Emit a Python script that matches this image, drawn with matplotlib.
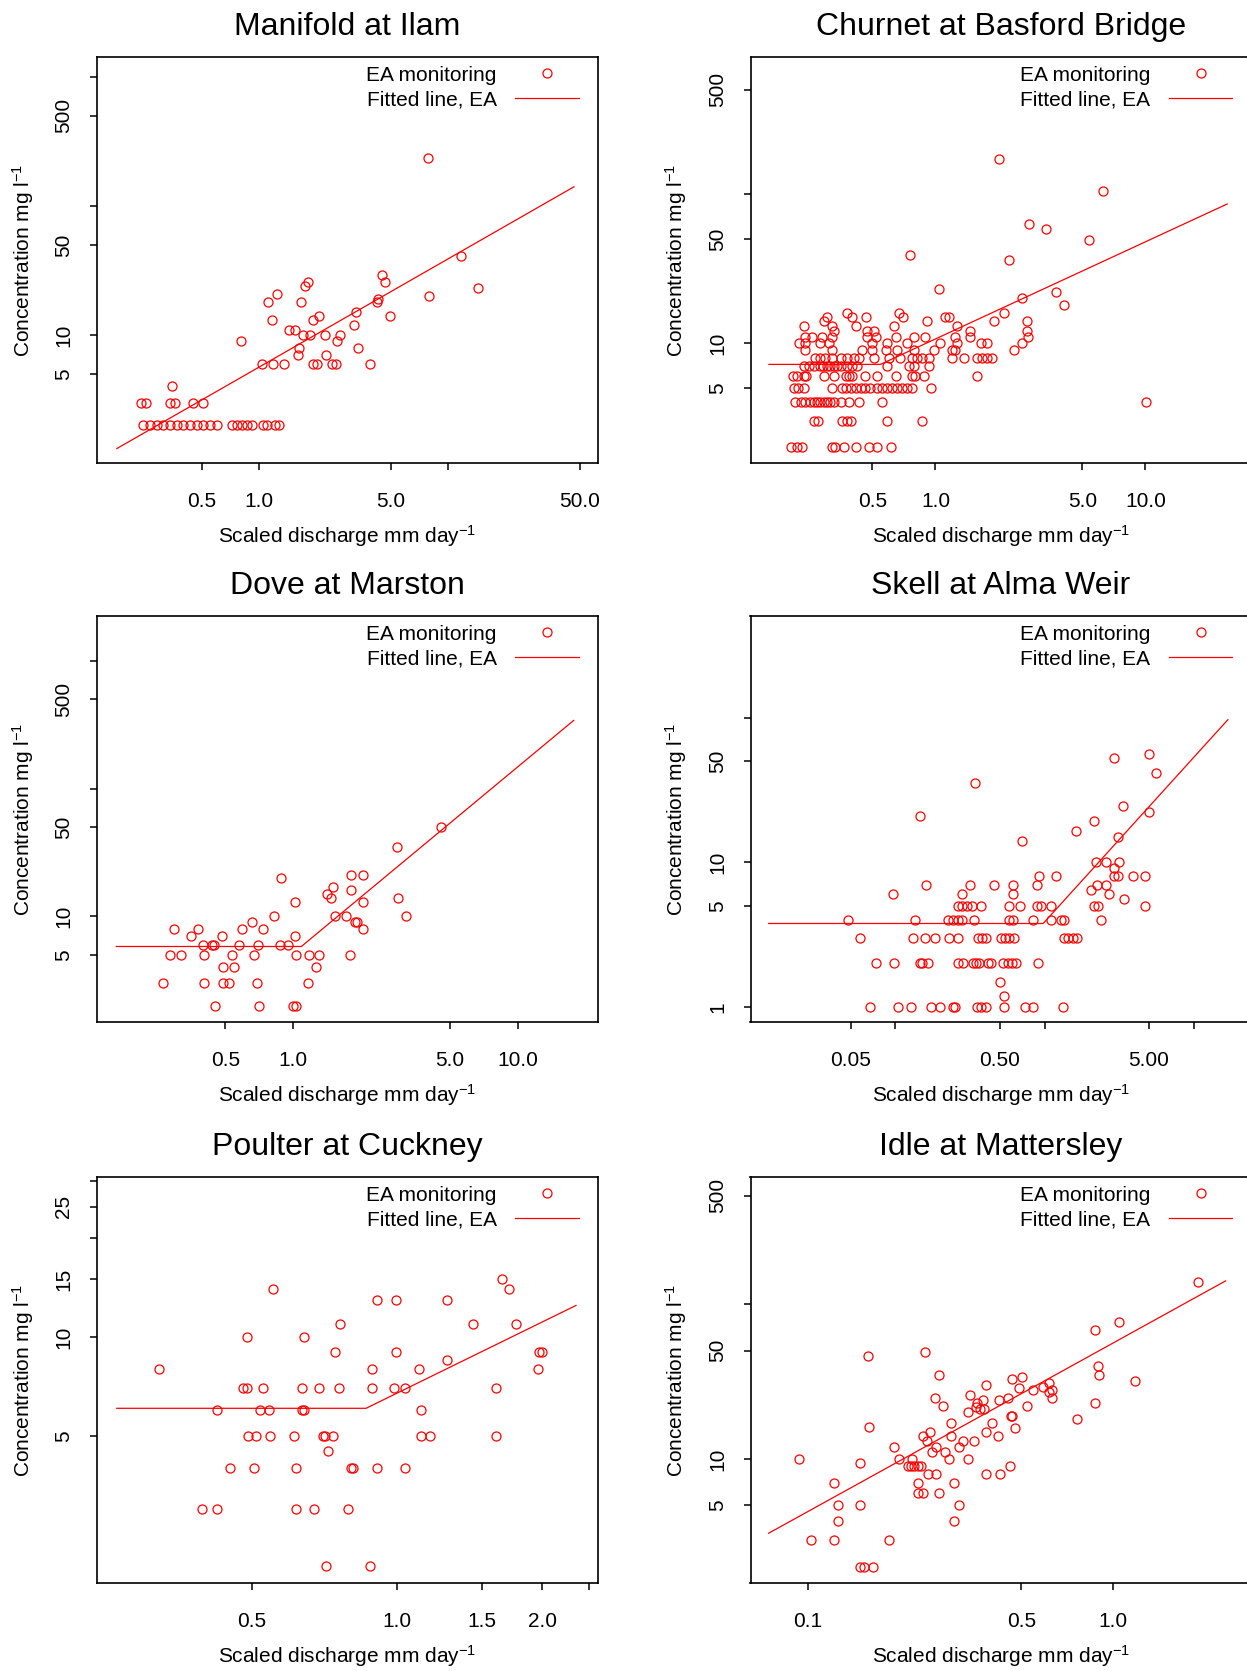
import matplotlib
matplotlib.use('Agg')
import matplotlib.pyplot as plt
from matplotlib.lines import Line2D

plt.rcParams['font.family'] = ['Liberation Sans', 'DejaVu Sans']
plt.rcParams['mathtext.fontset'] = 'custom'
plt.rcParams['mathtext.rm'] = 'Liberation Sans'
plt.rcParams['mathtext.it'] = 'Liberation Sans:italic'
plt.rcParams['mathtext.default'] = 'regular'

# ---- data ----
titles = ['Manifold at Ilam', 'Churnet at Basford Bridge', 'Dove at Marston',
          'Skell at Alma Weir', 'Poulter at Cuckney', 'Idle at Mattersley']

# Manifold at Ilam
x1 = [0.244, 0.265, 0.288, 0.312, 0.338, 0.367, 0.398, 0.431, 0.468, 0.507, 0.550,
      0.597, 0.716, 0.762, 0.809, 0.861, 0.915, 1.05, 1.10, 1.22, 1.27,
      0.239, 0.254, 0.338, 0.360, 0.450, 0.507, 0.348,
      1.04, 1.19, 1.36, 1.92, 2.02, 2.42, 2.55, 3.87,
      0.80, 1.61, 2.26, 1.63, 2.58, 3.35, 1.45, 1.55, 1.70, 1.86,
      2.23, 2.68, 1.92, 2.08, 3.19, 3.26, 1.17, 1.12, 1.24, 1.67,
      1.75, 1.82, 4.28, 4.20, 4.46, 4.64, 4.93, 7.80, 7.93, 11.7, 14.4]
y1 = [2, 2, 2, 2, 2, 2, 2, 2, 2, 2, 2,
      2, 2, 2, 2, 2, 2, 2, 2, 2, 2,
      3, 3, 3, 3, 3, 3, 4,
      6, 6, 6, 6, 6, 6, 6, 6,
      9, 7, 7, 8, 9, 8, 11, 11, 10, 10,
      10, 10, 13, 14, 12, 15, 13, 18, 21, 18,
      24, 26, 19, 18, 29, 26, 14, 234, 20, 41, 23]
fit1_x = [0.177, 46.4]
fit1_y = [1.32, 141]

# Churnet at Basford Bridge
x2 = [0.204, 0.218, 0.232, 0.322, 0.334, 0.366, 0.416, 0.482, 0.528, 0.611,
      0.264, 0.275, 0.359, 0.377, 0.394, 0.585, 0.864,
      0.215, 0.228, 0.240, 0.252, 0.264, 0.273, 0.283, 0.294, 0.305, 0.316,
      0.328, 0.353, 0.387, 0.431, 0.557,
      0.212, 0.221, 0.236, 0.322, 0.359, 0.373, 0.394, 0.416, 0.440, 0.464,
      0.490, 0.527, 0.557, 0.589, 0.622, 0.656, 0.694, 0.733, 0.774, 0.957,
      0.210, 0.219, 0.236, 0.243, 0.296, 0.328, 0.373, 0.387, 0.401, 0.464,
      0.527, 0.645, 0.774, 0.803, 0.880, 1.58,
      0.236, 0.250, 0.264, 0.283, 0.290, 0.305, 0.315, 0.328, 0.340, 0.353,
      0.380, 0.401, 0.424, 0.589, 0.746, 0.789, 0.930,
      0.268, 0.283, 0.299, 0.322, 0.353, 0.380, 0.408, 0.431, 0.508, 0.600,
      0.681, 0.774, 0.818, 0.864, 0.930, 1.20, 1.365, 1.58, 1.67, 1.76, 1.86,
      0.240, 0.322, 0.448, 0.499, 0.578, 0.657, 0.789, 0.980, 1.20, 1.245, 2.36,
      0.223, 0.240, 0.283, 0.311, 0.499, 0.589, 0.733, 1.056, 1.27, 1.64, 1.76, 2.59,
      0.240, 0.259, 0.289, 0.322, 0.473, 0.518, 0.645, 0.789, 0.896, 1.245, 1.468, 2.75,
      0.328, 0.473, 0.508, 1.468, 2.73,
      0.236, 0.322, 0.416, 0.633, 1.27,
      0.294, 0.913, 1.90, 2.73,
      0.303, 0.401, 0.469, 0.702, 1.116, 1.157,
      0.377, 0.669, 2.13,
      2.59, 3.73, 4.08, 1.045, 0.76, 2.23, 2.78, 3.37, 5.37, 2.00, 6.27, 10.1]
y2 = [2, 2, 2, 2, 2, 2, 2, 2, 2, 2,
      3, 3, 3, 3, 3, 3, 3,
      4, 4, 4, 4, 4, 4, 4, 4, 4, 4,
      4, 4, 4, 4, 4,
      5, 5, 5, 5, 5, 5, 5, 5, 5, 5,
      5, 5, 5, 5, 5, 5, 5, 5, 5, 5,
      6, 6, 6, 6, 6, 6, 6, 6, 6, 6,
      6, 6, 6, 6, 6, 6,
      7, 7, 7, 7, 7, 7, 7, 7, 7, 7,
      7, 7, 7, 7, 7, 7, 7,
      8, 8, 8, 8, 8, 8, 8, 8, 8, 8,
      8, 8, 8, 8, 8, 8, 8, 8, 8, 8, 8,
      9, 9, 9, 9, 9, 9, 9, 9, 9, 9, 9,
      10, 10, 10, 10, 10, 10, 10, 10, 10, 10, 10, 10,
      11, 11, 11, 11, 11, 11, 11, 11, 11, 11, 11, 11,
      12, 12, 12, 12, 12,
      13, 13, 13, 13, 13,
      14, 14, 14, 14,
      15, 15, 15, 15, 15, 15,
      16, 16, 16,
      20, 22, 18, 23, 39, 36, 63, 58, 49, 173, 104, 4]
fit2_x = [0.161, 0.547, 24.5]
fit2_y = [7.2, 7.2, 85.7]

# Dove at Marston
x3 = [0.265, 0.284, 0.318, 0.297, 0.351, 0.377, 0.399, 0.403, 0.403, 0.435,
      0.445, 0.450, 0.482, 0.490, 0.490, 0.521, 0.534, 0.548, 0.575, 0.591,
      0.655, 0.673, 0.690, 0.701, 0.703, 0.733, 0.824, 0.875, 0.885, 0.953,
      1.02, 1.02, 1.03, 1.00, 1.03, 1.17, 1.18, 1.27, 1.31, 1.42,
      1.50, 1.47, 1.54, 1.72, 1.79, 1.81, 1.81, 1.89, 1.93, 2.05,
      2.05, 2.05, 2.91, 2.94, 3.18, 4.53]
y3 = [3, 5, 5, 8, 7, 8, 6, 5, 3, 6,
      6, 2, 7, 4, 3, 3, 5, 4, 6, 8,
      9, 5, 3, 6, 2, 8, 10, 6, 20, 6,
      7, 13, 5, 2, 2, 3, 5, 4, 5, 15,
      17, 14, 10, 10, 5, 16, 21, 9, 9, 21,
      13, 8, 35, 14, 10, 50]
fit3_x = [0.164, 1.09, 17.7]
fit3_y = [5.8, 5.8, 342]

# Skell at Alma Weir
x4 = [0.067, 0.104, 0.127, 0.172, 0.200, 0.243, 0.249, 0.353, 0.376, 0.406,
      0.533, 0.745, 0.835, 1.34, 0.533, 0.499,
      0.074, 0.0975, 0.145, 0.151, 0.165, 0.262, 0.283, 0.330, 0.348, 0.366,
      0.417, 0.439, 0.525, 0.567, 0.607, 0.645, 0.902,
      0.058, 0.132, 0.157, 0.185, 0.230, 0.262, 0.357, 0.382, 0.406, 0.512,
      0.539, 0.582, 0.623, 1.36, 1.43, 1.55, 1.66,
      0.0479, 0.136, 0.224, 0.243, 0.262, 0.280, 0.336, 0.582, 0.613, 0.835,
      1.11, 1.29, 1.36, 2.40,
      0.262, 0.280, 0.303, 0.327, 0.376, 0.577, 0.690, 0.893, 0.950, 1.11,
      2.14, 2.28, 4.76,
      0.096, 0.280, 0.613, 2.73, 2.06, 3.44,
      0.161, 0.314, 0.455, 0.619, 0.893, 2.26, 2.59,
      0.916, 1.19, 2.92, 3.10, 3.92, 4.76,
      2.20, 2.57, 3.14,
      2.92, 3.10, 0.708, 1.63, 2.14, 5.01, 3.36, 0.145, 0.344, 5.62, 2.91, 5.01]
y4 = [1, 1, 1, 1, 1, 1, 1, 1, 1, 1,
      1, 1, 1, 1, 1.2, 1.5,
      2, 2, 2, 2, 2, 2, 2, 2, 2, 2,
      2, 2, 2, 2, 2, 2, 2,
      3, 3, 3, 3, 3, 3, 3, 3, 3, 3,
      3, 3, 3, 3, 3, 3, 3,
      4, 4, 4, 4, 4, 4, 4, 4, 4, 4,
      4, 4, 4, 4,
      5, 5, 5, 5, 5, 5, 5, 5, 5, 5,
      5, 5, 5,
      6, 6, 6, 6, 6.4, 5.6,
      7, 7, 7, 7, 7, 7, 7,
      8, 8, 8, 8, 8, 8,
      10, 10, 10,
      9.2, 15, 14, 16.4, 19.3, 22.4, 24.5, 21, 35.6, 41.5, 53, 56.5]
fit4_x = [0.0141, 0.98, 17.0]
fit4_y = [3.78, 3.78, 96.9]

# Poulter at Cuckney
x5 = [0.321, 0.393, 0.423, 0.423, 0.449, 0.478, 0.489, 0.489, 0.491, 0.505,
      0.509, 0.520, 0.526, 0.541, 0.545, 0.552, 0.610, 0.617, 0.617, 0.634,
      0.640, 0.635, 0.641, 0.673, 0.687, 0.703, 0.710, 0.711, 0.718, 0.737,
      0.743, 0.757, 0.761, 0.789, 0.801, 0.810, 0.879, 0.885, 0.887, 0.910,
      0.910, 0.986, 0.995, 0.995, 1.04, 1.04, 1.11, 1.12, 1.12, 1.17,
      1.27, 1.27, 1.44, 1.60, 1.60, 1.65, 1.71, 1.76, 1.96, 1.97, 2.00]
y5 = [8, 3, 3, 6, 4, 7, 7, 10, 5, 4,
      5, 6, 7, 6, 5, 14, 5, 4, 3, 6,
      6, 7, 10, 3, 7, 5, 5, 2, 4.5, 5,
      9, 7, 11, 3, 4, 4, 2, 8, 7, 4,
      13, 7, 13, 9, 7, 4, 8, 6, 5, 5,
      13, 8.5, 11, 5, 7, 15, 14, 11, 8, 9, 9]
fit5_x = [0.262, 0.862, 2.35]
fit5_y = [6.07, 6.07, 12.5]

# Idle at Mattersley
x6 = [0.0937, 0.103, 0.122, 0.122, 0.126, 0.126, 0.149, 0.149, 0.149, 0.153,
      0.164, 0.158, 0.159, 0.185, 0.192, 0.199, 0.213, 0.218, 0.223, 0.229,
      0.235, 0.220, 0.229, 0.229, 0.238, 0.238, 0.243, 0.245, 0.247, 0.252,
      0.255, 0.263, 0.263, 0.269, 0.270, 0.262, 0.277, 0.282, 0.291, 0.295,
      0.295, 0.301, 0.302, 0.312, 0.314, 0.323, 0.334, 0.334, 0.340, 0.351,
      0.355, 0.357, 0.366, 0.374, 0.379, 0.382, 0.384, 0.382, 0.400, 0.419,
      0.422, 0.427, 0.454, 0.459, 0.462, 0.465, 0.468, 0.477, 0.490, 0.502,
      0.524, 0.546, 0.589, 0.617, 0.617, 0.632, 0.632, 0.760, 0.873, 0.873,
      0.889, 0.900, 1.046, 1.18, 1.89]
y6 = [10, 3, 7, 3, 5, 4, 5, 9.4, 2, 2,
      2, 46, 16, 3, 12, 10, 9, 9, 9, 9,
      9, 10, 7, 6, 6, 14, 49, 13, 8, 15,
      11, 8, 12, 6, 35, 24.6, 21.8, 11, 10, 14,
      17, 7, 4, 5, 12, 13, 10, 20, 26, 13,
      21.5, 23, 21, 24, 21, 8, 30, 15, 17, 14,
      24, 8, 24.6, 9, 19, 19, 32.7, 15.8, 28.6, 34,
      21.8, 28, 29, 31, 27, 28, 24.6, 18, 68, 23,
      40, 35, 77, 32, 139]
fit6_x = [0.0746, 2.33]
fit6_y = [3.31, 141]

xlims = [(0.139, 62.2), (0.1315, 32), (0.1346, 22.7),
         (0.01064, 24.5), (0.2384, 2.61), (0.0651, 2.83)]
ylims = [(1.02, 1430), (1.57, 830), (1.486, 2248),
         (0.788, 505), (1.78, 30.8), (1.58, 660)]

xticks = [[0.5, 1, 5, 10, 50], [0.5, 1, 5, 10], [0.5, 1, 5, 10],
          [0.05, 0.1, 0.5, 1, 5, 10], [0.5, 1, 1.5, 2, 2.5], [0.1, 0.5, 1]]
xticklabels = [['0.5', '1.0', '5.0', '', '50.0'], ['0.5', '1.0', '5.0', '10.0'],
               ['0.5', '1.0', '5.0', '10.0'], ['0.05', '', '0.50', '', '5.00', ''],
               ['0.5', '1.0', '1.5', '2.0', ''], ['0.1', '0.5', '1.0']]
yticks = [[5, 10, 50, 100, 500, 1000], [5, 10, 50, 100, 500], [5, 10, 50, 100, 500, 1000],
          [1, 5, 10, 50, 100], [5, 10, 15, 20, 25, 30], [5, 10, 50, 100, 500]]
yticklabels = [['5', '10', '50', '', '500', ''], ['5', '10', '50', '', '500'],
               ['5', '10', '50', '', '500', ''], ['1', '5', '10', '50', ''],
               ['5', '10', '15', '', '25', ''], ['5', '10', '50', '', '500']]

xs = [x1, x2, x3, x4, x5, x6]
ys = [y1, y2, y3, y4, y5, y6]
fit_xs = [fit1_x, fit2_x, fit3_x, fit4_x, fit5_x, fit6_x]
fit_ys = [fit1_y, fit2_y, fit3_y, fit4_y, fit5_y, fit6_y]

# ---- layout (pixels of the 1247x1671 image) ----
W, H = 1247, 1671
lefts = [97, 750.5]
tops = [57, 616, 1177]
aw, ah = 501, 406

fig = plt.figure(figsize=(W / 100, H / 100), dpi=100)

for i in range(6):
    r, c = divmod(i, 2)
    ax = fig.add_axes([lefts[c] / W, 1 - (tops[r] + ah) / H, aw / W, ah / H])
    ax.plot(xs[i], ys[i], ls='none', marker='o', mfc='none', mec='red',
            ms=6.5, mew=0.9)
    ax.plot(fit_xs[i], fit_ys[i], color='red', lw=0.9)
    ax.set_xscale('log')
    ax.set_yscale('log')
    ax.set_xlim(xlims[i])
    ax.set_ylim(ylims[i])
    ax.set_xticks(xticks[i], xticklabels[i])
    ax.set_yticks(yticks[i], yticklabels[i])
    ax.minorticks_off()
    ax.tick_params(direction='out', length=5, width=1.1, labelsize=15)
    ax.tick_params(axis='x', pad=16)
    ax.tick_params(axis='y', pad=12, labelrotation=90)
    for lbl in ax.get_yticklabels():
        lbl.set_verticalalignment('center')
    for s in ax.spines.values():
        s.set_linewidth(1.2)
    ax.set_title(titles[i], fontsize=23, pad=15.5)
    ax.set_xlabel(r'Scaled discharge mm day$^{-1}$', fontsize=15, va='center')
    ax.xaxis.set_label_coords(0.5, -0.18)
    ax.set_ylabel(r'Concentration mg l$^{-1}$', fontsize=15, va='center')
    ax.yaxis.set_label_coords(-0.148, 0.5)

    handles = [Line2D([], [], ls='none', marker='o', mfc='none', mec='red', ms=6.5, mew=0.9),
               Line2D([], [], color='red', lw=0.9)]
    ax.legend(handles, ['EA monitoring', 'Fitted line, EA'], loc='upper right',
              bbox_to_anchor=(0.962, 0.979), frameon=False, markerfirst=False,
              borderpad=0, borderaxespad=0, handlelength=3.05, handletextpad=0.9,
              labelspacing=0.3, fontsize=15)

fig.savefig('out.png', dpi=100)
